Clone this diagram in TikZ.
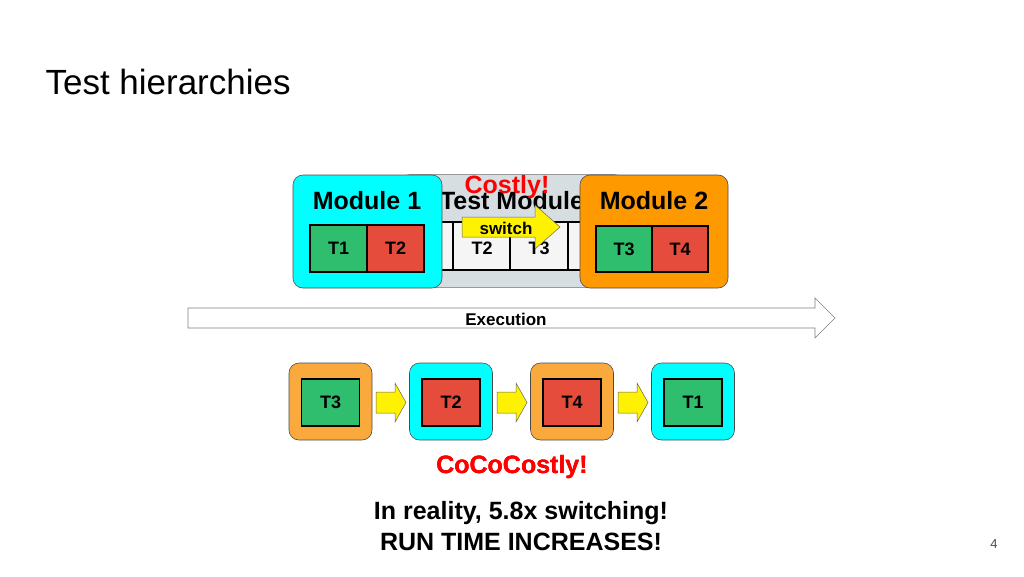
\documentclass[tikz,border=0pt]{standalone}
\usepackage{fontspec}
\setmainfont{Liberation Sans}
\usetikzlibrary{calc}
\definecolor{cyanM}{RGB}{0,255,255}
\definecolor{orM}{RGB}{255,153,0}
\definecolor{orL}{RGB}{250,170,60}
\definecolor{grnT}{RGB}{46,190,110}
\definecolor{redT}{RGB}{230,76,60}
\definecolor{grayM}{RGB}{215,222,225}
\tikzset{
 mod/.style={draw=black!70,rounded corners=10pt,line width=0.6pt},
 cell/.style={draw=black,line width=1.2pt,font=\bfseries\fontsize{18}{18}\selectfont},
 yarr/.style={draw=black!60,fill=yellow,line width=0.5pt},
}
% arrow: style, x1, x2(head start), x3(tip), yc, half body, half head
\newcommand\blockarrow[7]{\draw[#1] (#2,#5-#6) -- (#3,#5-#6) -- (#3,#5-#7) -- (#4,#5) -- (#3,#5+#7) -- (#3,#5+#6) -- (#2,#5+#6) -- cycle;}
\begin{document}
\begin{tikzpicture}[x=1pt,y=-1pt]
\useasboundingbox (0,0) rectangle (1024,576);
\node[anchor=west,font=\fontsize{35}{35}\selectfont] (title) at (42,82) {Test hierarchies};
% test module background
\node[mod,fill=grayM,draw=black!40,minimum width=225pt,minimum height=113pt] (tm) at (512,231) {};
\node[font=\bfseries\fontsize{25}{25}\selectfont] (tml) at (512,201) {Test Module};
\foreach \i/\x/\t in {1/424/T1,2/482/T2,3/539/T3,4/597/T4}{
  \node[cell,fill=gray!8,minimum width=58pt,minimum height=48pt] (g\i) at (\x,246) {};
  \node[font=\bfseries\fontsize{18}{18}\selectfont] (gl\i) at (\x,248) {\t};
}
% module 1
\node[mod,fill=cyanM,minimum width=149pt,minimum height=113pt] (m1) at (367.5,231.5) {};
\node[font=\bfseries\fontsize{25}{25}\selectfont] (m1l) at (367,201) {Module 1};
\node[cell,fill=grnT,minimum width=57pt,minimum height=47pt] (a1) at (338.5,248.5) {T1};
\node[cell,fill=redT,minimum width=57pt,minimum height=47pt] (a2) at (395.5,248.5) {T2};
% module 2
\node[mod,fill=orM,minimum width=148pt,minimum height=113pt] (m2) at (654,231.5) {};
\node[font=\bfseries\fontsize{25}{25}\selectfont] (m2l) at (654,201) {Module 2};
\node[cell,fill=grnT,minimum width=56pt,minimum height=46pt] (b1) at (624,249) {T3};
\node[cell,fill=redT,minimum width=56pt,minimum height=46pt] (b2) at (680,249) {T4};
% switch
\blockarrow{yarr}{462}{535}{560}{227}{10}{22}
\node[font=\bfseries\fontsize{17}{17}\selectfont] (swl) at (506,228) {switch};
\node[text=red,font=\bfseries\fontsize{25}{25}\selectfont] (cost) at (507,187) {Costly!};
% execution
\blockarrow{draw=black!50,fill=white,line width=0.6pt}{188}{815}{835}{318}{10}{20}
\node[font=\bfseries\fontsize{17}{17}\selectfont] (exl) at (506,319) {Execution};
% bottom sequence
\foreach \i/\x/\c/\tc/\t in {1/330.5/orL/grnT/T3,2/451/cyanM/redT/T2,3/572/orL/redT/T4,4/693/cyanM/grnT/T1}{
  \node[mod,fill=\c,minimum width=83pt,minimum height=77pt] (s\i) at (\x,401.5) {};
  \node[cell,fill=\tc,minimum width=58pt,minimum height=47pt] (t\i) at (\x,402.5) {\t};
}
\foreach \x in {376,497,618}
  \blockarrow{yarr}{\x}{\x+19}{\x+30}{402.5}{10.5}{19.5}
\node[text=red,font=\bfseries\fontsize{25}{25}\selectfont] (coco) at (512,467) {CoCoCostly!};
\node[align=center,font=\bfseries\fontsize{25}{31}\selectfont] (real) at (521,526) {In reality, 5.8x switching!\\RUN TIME INCREASES!};
\node[font=\fontsize{13}{13}\selectfont,text=black!70] (pg) at (994,544) {4};
\end{tikzpicture}
\end{document}
